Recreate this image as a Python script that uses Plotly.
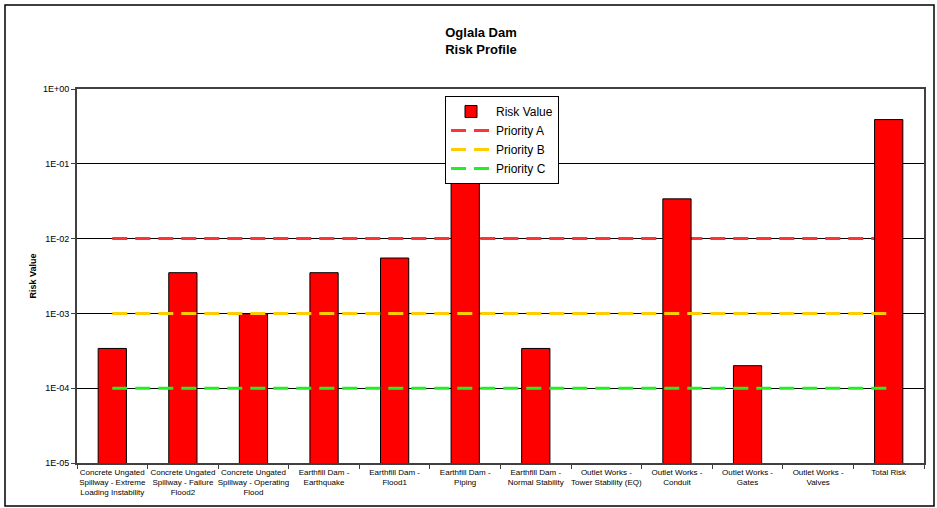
import plotly.graph_objects as go

categories = [
    "Concrete Ungated<br>Spillway - Extreme<br>Loading Instability",
    "Concrete Ungated<br>Spillway - Failure<br>Flood2",
    "Concrete Ungated<br>Spillway - Operating<br>Flood",
    "Earthfill Dam -<br>Earthquake",
    "Earthfill Dam -<br>Flood1",
    "Earthfill Dam -<br>Piping",
    "Earthfill Dam -<br>Normal Stability",
    "Outlet Works -<br>Tower Stability (EQ)",
    "Outlet Works -<br>Conduit",
    "Outlet Works -<br>Gates",
    "Outlet Works -<br>Valves",
    "Total Risk",
]
risk_value = [3.4e-4, 3.5e-3, 9.9e-4, 3.5e-3, 5.5e-3, 0.34, 3.4e-4, None, 0.034, 2.0e-4, None, 0.39]
priority_a = [0.01] * 12
priority_b = [0.001] * 12
priority_c = [0.0001] * 12

tick_vals = [1, 0.1, 0.01, 0.001, 0.0001, 0.00001]
tick_text = ["1E+00", "1E-01", "1E-02", "1E-03", "1E-04", "1E-05"]

W, H = 937, 508
L, R, T, B = 77, 13, 89, 45

fig = go.Figure()
# Priority A sits behind the bars (base subplot)
fig.add_trace(go.Scatter(
    x=categories, y=priority_a, name="Priority A", mode="lines",
    line=dict(color="#FF3333", width=3, dash="15px,8px"), legendrank=2,
    xaxis="x", yaxis="y",
))
# Bars on an overlaying subplot
fig.add_trace(go.Bar(
    x=categories, y=risk_value, name="Risk Value",
    marker=dict(color="#FF0000", line=dict(color="#000000", width=1)),
    legendrank=1, xaxis="x2", yaxis="y2",
))
# Priority B and C drawn above bars
fig.add_trace(go.Scatter(
    x=categories, y=priority_b, name="Priority B", mode="lines",
    line=dict(color="#FFCC00", width=3, dash="15px,8px"), legendrank=3,
    xaxis="x3", yaxis="y3",
))
fig.add_trace(go.Scatter(
    x=categories, y=priority_c, name="Priority C", mode="lines",
    line=dict(color="#22EE22", width=3, dash="15px,8px"), legendrank=4,
    xaxis="x3", yaxis="y3",
))

pw = W - L - R
ph = H - T - B

hidden_x = dict(type="category", overlaying="x", matches="x", visible=False,
                showgrid=False)
hidden_y = dict(type="log", overlaying="y", matches="y", range=[-5, 0],
                visible=False, showgrid=False)

fig.update_layout(
    width=W, height=H,
    margin=dict(l=L, r=R, t=T, b=B, pad=0),
    paper_bgcolor="white", plot_bgcolor="white",
    font=dict(family="Arial, Liberation Sans, sans-serif", color="#000000"),
    title=dict(
        text="<b>Oglala Dam<br>Risk Profile</b>",
        font=dict(size=13, family="Arial, Liberation Sans, sans-serif"),
        x=481 / W, xref="container", xanchor="center",
        y=1 - 37 / H, yref="container", yanchor="middle",
    ),
    bargap=0.6,
    showlegend=True,
    legend=dict(
        x=(445 - L) / pw, y=(H - B - 96) / ph, xanchor="left", yanchor="top",
        bgcolor="white", bordercolor="#000000", borderwidth=1,
        font=dict(size=12, family="Arial, Liberation Sans, sans-serif"),
        tracegroupgap=0, itemwidth=40, entrywidth=115, entrywidthmode="pixels",
    ),
    xaxis=dict(
        type="category",
        showgrid=False,
        showline=True, linecolor="#404040", linewidth=2, mirror=True,
        ticks="outside", tickson="boundaries", ticklen=4, tickcolor="#404040",
        tickfont=dict(size=8),
        tickangle=0,
    ),
    yaxis=dict(
        type="log", range=[-5, 0],
        tickvals=tick_vals, ticktext=tick_text,
        showgrid=True, gridcolor="#000000", gridwidth=1,
        showline=True, linecolor="#404040", linewidth=2, mirror=True,
        ticks="outside", ticklen=4, tickcolor="#404040",
        tickfont=dict(size=9),
        title=dict(text="<b>Risk Value</b>", font=dict(size=9), standoff=5),
        zeroline=False,
    ),
    xaxis2=hidden_x, yaxis2=hidden_y,
    xaxis3=hidden_x, yaxis3=hidden_y,
    shapes=[dict(
        type="rect", xref="paper", yref="paper",
        x0=(5 - L) / pw, x1=(934 - L) / pw,
        y0=(H - B - 506) / ph, y1=(H - B - 5) / ph,
        line=dict(color="#000000", width=1.5), fillcolor="rgba(0,0,0,0)",
        layer="below",
    )],
)

fig.write_html("out.html", config={"displayModeBar": False},
               post_script="document.body.style.margin='0px';")
